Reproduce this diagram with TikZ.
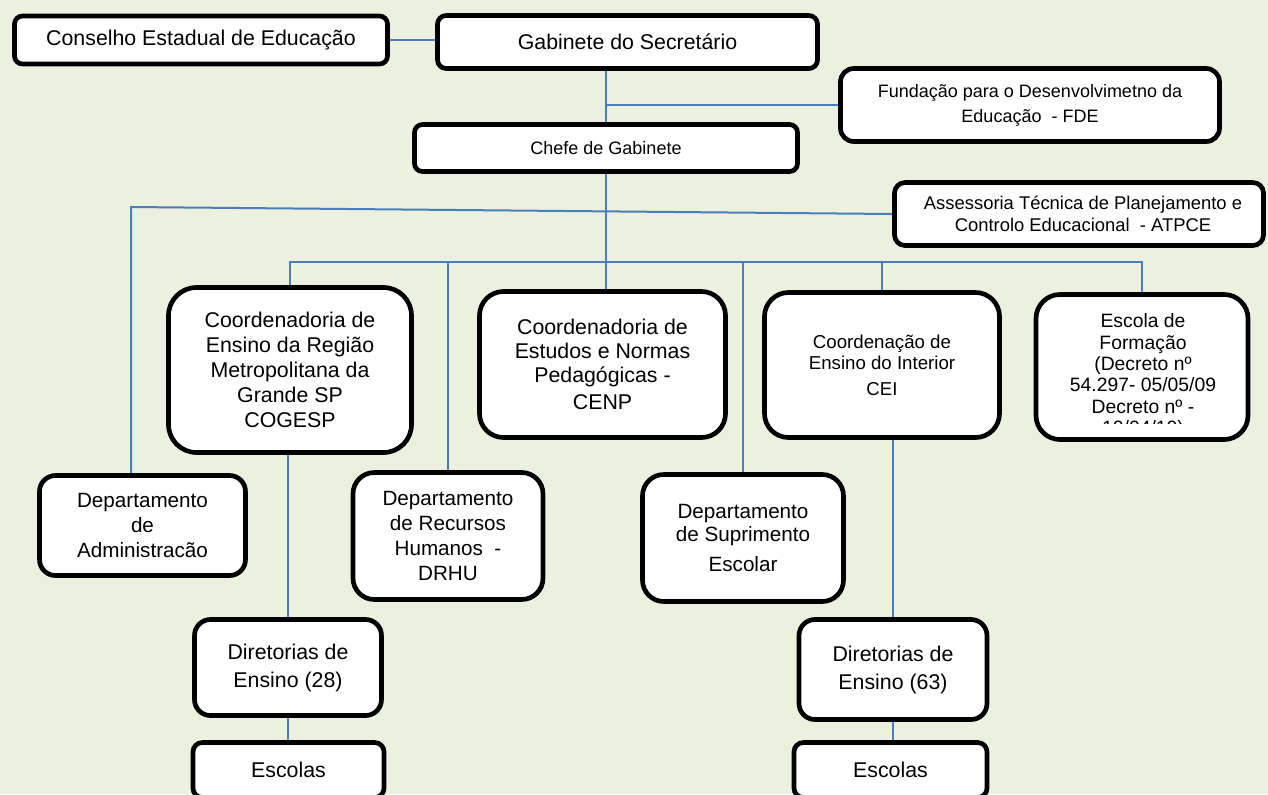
\documentclass[tikz,border=0pt]{standalone}
\usepackage{fontspec}
\setmainfont{Liberation Sans}
\usetikzlibrary{shadows}
\definecolor{bgc}{HTML}{EBF1DE}
\definecolor{lnc}{HTML}{4A7EBB}
\pgfdeclarelayer{back}
\pgfdeclarelayer{lines}
\pgfsetlayers{back,lines,main}
\begin{document}
\begin{tikzpicture}[x=0.75pt,y=-0.75pt,
  box/.style={draw=black, line width=3.5pt, fill=white, rounded corners=#1, align=center, inner sep=0pt,
    drop shadow={shadow xshift=1.2pt, shadow yshift=-1.2pt, fill=black, opacity=0.25}},
  box/.default=8pt,
  conn/.style={draw=lnc, line width=1.5pt},
  fA/.style={font=\fontsize{16}{18.75}\selectfont},
  fB/.style={font=\fontsize{13.5}{18.75}\selectfont},
  fC/.style={font=\fontsize{15.5}{18.9}\selectfont},
  fD/.style={font=\fontsize{16}{21}\selectfont}]
\useasboundingbox (0,0) rectangle (1268,794);
\clip (0,0) rectangle (1268,794);
\begin{pgfonlayer}{back}
\fill[bgc] (0,0) rectangle (1268,794);
\end{pgfonlayer}

% top row
\node[box=6pt, fA, minimum width=279.75pt, minimum height=36pt] (cons) at (201,40) {Conselho Estadual de Educação};
\node[box=6.5pt, fA, minimum width=285pt, minimum height=39.75pt] (gab) at (627.5,42) {Gabinete do Secretário};
\node[box=10pt, fB, minimum width=284.25pt, minimum height=54.75pt] (fde) at (1030,105) {Fundação para o Desenvolvimetno da\\Educação \ - FDE};
\node[box=6pt, font=\fontsize{13.5}{16}\selectfont, minimum width=287.25pt, minimum height=35.25pt] (chefe) at (606,148) {Chefe de Gabinete};
\node[box=8pt, font=\fontsize{13.8}{16.3}\selectfont, minimum width=276.75pt, minimum height=47.25pt] (atpce) at (1079,214) {\hspace*{6pt}Assessoria Técnica de Planejamento e\\\hspace*{6pt}Controlo Educacional \ - ATPCE};

% coordinations
\node[box=21pt, fA, minimum width=182.25pt, minimum height=123.75pt] (cog) at (290,370) {Coordenadoria de\\Ensino da Região\\Metropolitana da\\Grande SP\\COGESP};
\node[box=18pt, font=\fontsize{16}{18}\selectfont, minimum width=184.5pt, minimum height=109.5pt] (cenp) at (602.5,364.5) {Coordenadoria de\\Estudos e Normas\\Pedagógicas -\\[2pt]CENP};
\node[box=18pt, font=\fontsize{14}{15.5}\selectfont, minimum width=176.25pt, minimum height=108.75pt] (cei) at (882,365) {Coordenação de\\Ensino do Interior\\[4pt]CEI};
\node[box=18pt, minimum width=159pt, minimum height=108.75pt] (esc) at (1142,367) {};
\begin{scope}
\clip (1035,300) rectangle (1252,423);
\node[align=center, inner sep=0pt, font=\fontsize{14.5}{16}\selectfont] (esctxt) at (1143,376) {Escola de\\Formação\\(Decreto nº\\54.297- 05/05/09\\Decreto nº -\\10/04/10)};
\end{scope}

% departments
\node[box=12pt, fC, minimum width=154.5pt, minimum height=75pt] (adm) at (142.5,525.5) {Departamento\\de\\Administracão};
\node[box=16pt, fC, minimum width=142.5pt, minimum height=95.25pt] (drhu) at (448,536) {Departamento\\de Recursos\\Humanos \ -\\DRHU};
\node[box=16pt, font=\fontsize{15.5}{17.5}\selectfont, minimum width=150.75pt, minimum height=95.25pt] (sup) at (743,538) {Departamento\\de Suprimento\\[5pt]Escolar};

% diretorias and escolas
\node[box=12pt, fD, minimum width=140.25pt, minimum height=72pt] (dir28) at (288,667.5) {Diretorias de\\Ensino (28)};
\node[box=12pt, fD, minimum width=141pt, minimum height=75pt] (dir63) at (893,669.5) {Diretorias de\\Ensino (63)};
\node[box=7pt, fA, minimum width=143.25pt, minimum height=41.25pt] (esc28) at (288.5,770) {Escolas};
\node[box=7pt, fA, minimum width=144.75pt, minimum height=41.25pt] (esc63) at (890.5,770) {Escolas};

% connectors
\coordinate (bus) at (0,262);
\coordinate (ja) at (131,207);
\begin{pgfonlayer}{lines}
\draw[conn] (cons.east) -- (cons.east -| gab.west);
\draw[conn] (gab.south -| chefe.north) -- (chefe.north);
\draw[conn] (chefe.north |- fde.west) -- (fde.west);
\draw[conn] (chefe.south) -- (chefe.south |- cenp.north);
\draw[conn] (cog.north) -- (cog.north |- bus) -- (esc.north |- bus) -- (esc.north);
\draw[conn] (drhu.north |- bus) -- (drhu.north);
\draw[conn] (sup.north |- bus) -- (sup.north);
\draw[conn] (cei.north |- bus) -- (cei.north);
\draw[conn] (atpce.west) -- (ja) -- (ja |- adm.north);
\draw[conn] (cog.south -| dir28.north) -- (dir28.north);
\draw[conn] (dir28.south) -- (dir28.south |- esc28.north);
\draw[conn] (cei.south -| dir63.north) -- (dir63.north);
\draw[conn] (dir63.south) -- (dir63.south |- esc63.north);
\end{pgfonlayer}
\end{tikzpicture}
\end{document}
